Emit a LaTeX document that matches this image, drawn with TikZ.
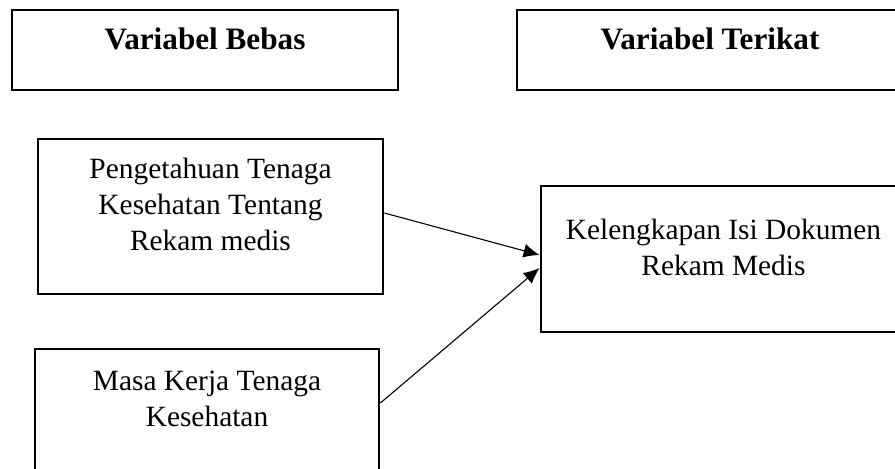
\documentclass[tikz,border=0pt]{standalone}
\usepackage{fontspec}
\setmainfont{Liberation Serif}
\usepackage{tikz}
\usetikzlibrary{positioning, arrows.meta}
\tikzset{>={Latex[length=8pt,width=7pt]}}

\tikzset{
    varbox/.style={draw, line width=1.4pt, inner sep=0pt},
    headtext/.style={font=\fontsize{15.6}{19}\selectfont\bfseries, inner sep=0pt},
    bodytext/.style={font=\fontsize{14.7}{18}\selectfont, align=center, inner sep=0pt},
    link/.style={->, line width=0.55pt}
}

\begin{document}
\begin{tikzpicture}[x=0.5pt, y=-0.5pt]
    	\useasboundingbox (0,0) rectangle (895,468);
    	\clip (0,0) rectangle (895,468);

    	% judul kolom
    	\node[varbox, minimum width=193pt, minimum height=40pt, label={[headtext, below=9.2pt]north:Variabel Bebas}] (bebas) at (205,50) {};
    	\node[varbox, minimum width=193pt, minimum height=40pt, label={[headtext, below=9.2pt]north:Variabel Terikat}] (terikat) at (710,50) {};

    	% variabel
    	\node[varbox, minimum width=172.5pt, minimum height=77.5pt, label={[bodytext, below=10.2pt]north:{Pengetahuan Tenaga\\Kesehatan Tentang\\Rekam medis}}] (peng) at (210.5,216.5) {};
    	\node[varbox, minimum width=172pt, minimum height=70pt, label={[bodytext, below=11.3pt]north:{Masa Kerja Tenaga\\Kesehatan}}] (masa) at (207,419) {};
    	\node[varbox, minimum width=182.5pt, minimum height=73pt, label={[bodytext, below=16.8pt]north:{Kelengkapan Isi Dokumen\\Rekam Medis}}] (kel) at (723.5,259) {};

    	\draw[link] ([yshift=1.75pt]peng.east) -- ([yshift=2pt]kel.west);
    	\draw[link] ([yshift=8pt]masa.east) -- ([yshift=-4.5pt]kel.west);
\end{tikzpicture}
\end{document}
